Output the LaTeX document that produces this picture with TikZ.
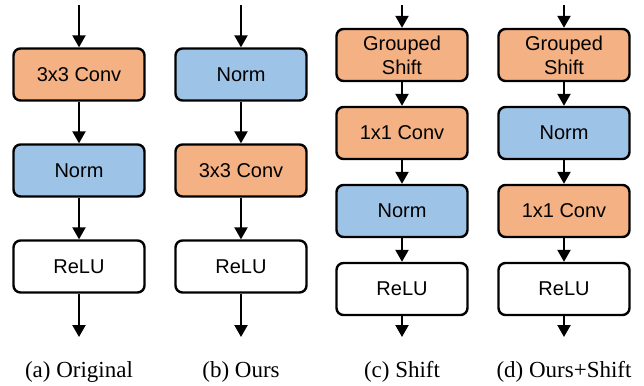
\documentclass[tikz,border=0pt]{standalone}
\usepackage{fontspec}
\setmainfont{Liberation Sans}
\newfontfamily\capfont{Liberation Serif}
\usetikzlibrary{positioning, arrows.meta}
\definecolor{convc}{HTML}{F4B183}
\definecolor{normc}{HTML}{9DC3E6}

\begin{document}
\begin{tikzpicture}[x=1pt, y=-1pt, node distance=41.6pt,
	every node/.style={font=\fontsize{20}{24}\selectfont},
	blk/.style={draw, line width=2.4pt, rounded corners=7pt, minimum width=131pt, minimum height=52pt, align=center, inner sep=0pt},
	conv/.style={blk, fill=convc},
	norm/.style={blk, fill=normc},
	act/.style={blk, fill=white},
	subcap/.style={font=\capfont\fontsize{23}{26}\selectfont},
	flow/.style={-{Triangle[width=13pt,length=12pt]}, line width=2.2pt}]
		\useasboundingbox (0,0) rectangle (644,385);

		% (a) original
		\coordinate (ain) at (79,5);
		\node[conv] (a1) at (79,74.5) {3x3 Conv};
		\node[norm] (a2) [below=of a1] {Norm};
		\node[act] (a3) [below=of a2] {ReLU};
		\coordinate (aout) at (79,337);
		\node[subcap] (acap) at (79,372) {(a) Original};

		% (b) ours
		\coordinate (bin) at (241,5);
		\node[norm] (b1) at (241,74.5) {Norm};
		\node[conv] (b2) [below=of b1] {3x3 Conv};
		\node[act] (b3) [below=of b2] {ReLU};
		\coordinate (bout) at (241,337);
		\node[subcap] (bcap) at (241,372) {(b) Ours};

		% (c) shift
		\coordinate (cin) at (402,5);
		\node[conv] (c1) at (402,55) {Grouped\\Shift};
		\node[conv] (c2) [below=23.6pt of c1] {1x1 Conv};
		\node[norm] (c3) [below=23.6pt of c2] {Norm};
		\node[act] (c4) [below=23.6pt of c3] {ReLU};
		\coordinate (cout) at (402,337);
		\node[subcap] (ccap) at (402,372) {(c) Shift};

		% (d) ours+shift
		\coordinate (din) at (564,5);
		\node[conv] (d1) at (564,55) {Grouped\\Shift};
		\node[norm] (d2) [below=23.6pt of d1] {Norm};
		\node[conv] (d3) [below=23.6pt of d2] {1x1 Conv};
		\node[act] (d4) [below=23.6pt of d3] {ReLU};
		\coordinate (dout) at (564,337);
		\node[subcap] (dcap) at (564,372) {(d) Ours+Shift};

		\path[flow]
		(ain) edge (a1)
		(a1) edge (a2)
		(a2) edge (a3)
		(a3) edge (aout)
		(bin) edge (b1)
		(b1) edge (b2)
		(b2) edge (b3)
		(b3) edge (bout)
		(cin) edge (c1)
		(c1) edge (c2)
		(c2) edge (c3)
		(c3) edge (c4)
		(c4) edge (cout)
		(din) edge (d1)
		(d1) edge (d2)
		(d2) edge (d3)
		(d3) edge (d4)
		(d4) edge (dout);
	\end{tikzpicture}
\end{document}
